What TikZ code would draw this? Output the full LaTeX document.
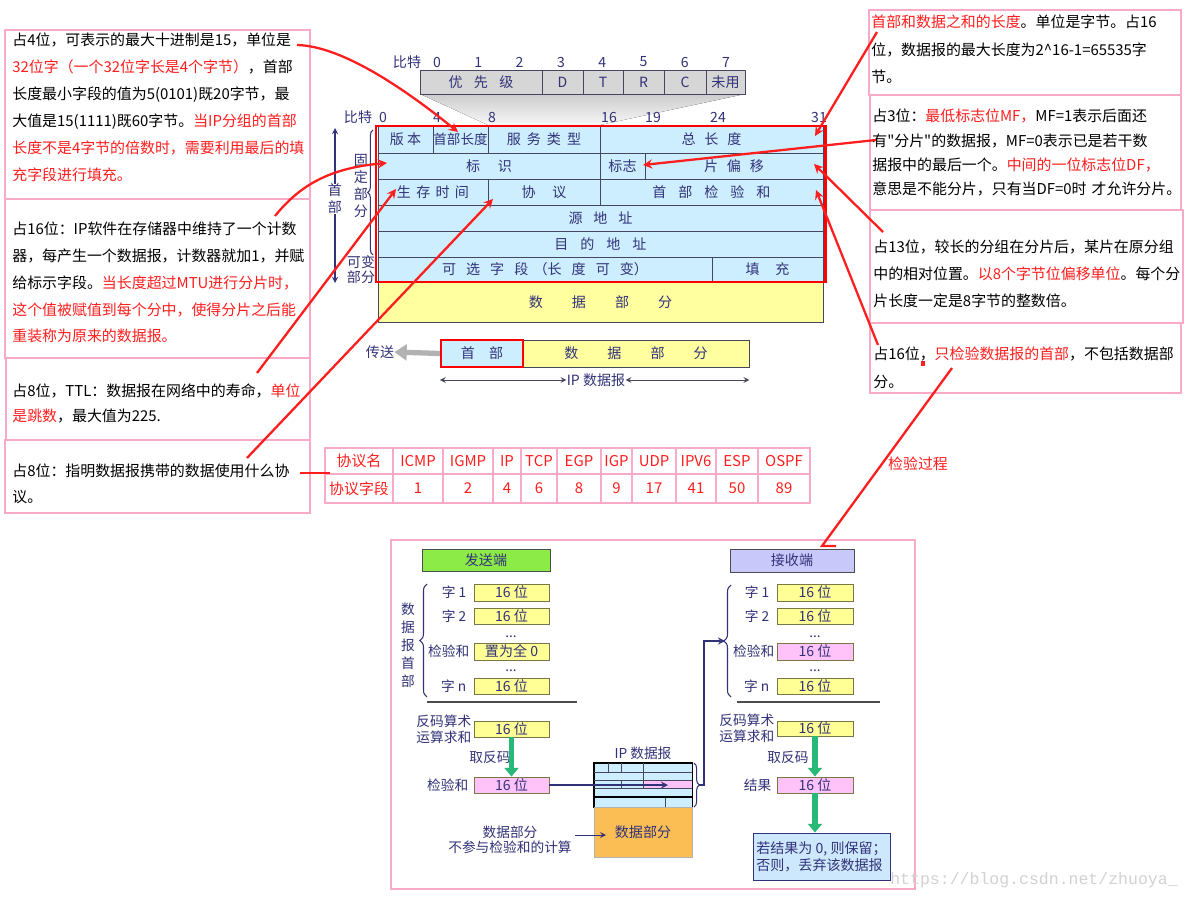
\documentclass[tikz,border=0pt]{standalone}
\usepackage{fontspec}
\setmainfont{Noto Sans CJK SC}
\newfontfamily\markfont{Liberation Mono}
\usetikzlibrary{positioning, arrows.meta, fit, decorations.pathreplacing}

\definecolor{notered}{RGB}{255,30,30}
\definecolor{pinkline}{RGB}{248,170,200}
\definecolor{navy}{RGB}{50,50,120}
\definecolor{hdrblue}{RGB}{204,238,255}
\definecolor{hdrline}{RGB}{70,70,95}
\definecolor{datayel}{RGB}{255,255,160}
\definecolor{tosgray}{RGB}{214,214,214}
\definecolor{wordyel}{RGB}{255,255,150}
\definecolor{wordline}{RGB}{120,120,70}
\definecolor{wordpink}{RGB}{255,195,250}
\definecolor{sendgreen}{RGB}{140,235,70}
\definecolor{recvblue}{RGB}{200,200,250}
\definecolor{dataorange}{RGB}{250,190,85}
\definecolor{resblue}{RGB}{205,232,252}
\definecolor{flowgreen}{RGB}{40,185,120}
\newcommand{\rd}[1]{\textcolor{notered}{#1}}
\newcommand{\chgap}[1]{\hspace{#1pt}}

\begin{document}
\begin{tikzpicture}[
    x=0.02cm, y=-0.02cm,
    >=stealth,
    notebox/.style={draw=pinkline, line width=0.6pt, inner sep=0pt},
    note/.style={anchor=base west, align=left, text width=7cm, inner sep=0pt, font=\fontsize{8.5}{15.3}\selectfont},
    fieldtext/.style={inner sep=0pt, text=navy, font=\fontsize{8}{9.6}\selectfont},
    ftext/.style={label={[fieldtext]center:#1}},
    field/.style={draw=hdrline, fill=hdrblue, line width=0.5pt, inner sep=0pt},
    tosfield/.style={field, fill=tosgray},
    datafield/.style={field, fill=datayel},
    bitnum/.style={inner sep=0pt, text=navy, font=\fontsize{8}{9.6}\selectfont},
    celltext/.style={inner sep=0pt, text=notered, font=\fontsize{8.5}{10}\selectfont},
    cell/.style={draw=pinkline, line width=1.5pt, inner sep=0pt},
    wordbox/.style={draw=wordline, fill=wordyel, line width=0.5pt, inner sep=0pt},
    sumbox/.style={wordbox, fill=wordpink},
    lbl/.style={inner sep=0pt, text=navy, font=\fontsize{7.8}{9}\selectfont},
    dots/.style={lbl, anchor=base},
    flow/.style={-{Triangle[length=5pt, width=8pt]}, flowgreen, line width=3pt},
    link/.style={->, notered, line width=1.3pt}
]
\useasboundingbox (0,0) rectangle (1190,898);
\fill[white] (0,0) rectangle (1190,898);

% left notes
\node[notebox, fit={(5,30) (310,199)}] (box1) {};
\node[notebox, fit={(5,199) (310,358)}] (box2) {};
\node[notebox, fit={(6,358) (310,440)}] (box3) {};
\node[notebox, fit={(5,440) (310,513)}] (box4) {};
\node[note] (n1) at (12,46) {占4位，可表示的最大十进制是15，单位是\\
    \rd{32位字（一个32位字长是4个字节）}，首部\\
    长度最小字段的值为5(0101)既20字节，最\\
    大值是15(1111)既60字节。\rd{当IP分组的首部}\\
    \rd{长度不是4字节的倍数时，需要利用最后的填}\\
    \rd{充字段进行填充。}};
\node[note, font=\fontsize{8.5}{15.2}\selectfont] (n2) at (12,235) {占16位：IP软件在存储器中维持了一个计数\\
    器，每产生一个数据报，计数器就加1，并赋\\
    给标示字段。\rd{当长度超过MTU进行分片时，}\\
    \rd{这个值被赋值到每个分中，使得分片之后能}\\
    \rd{重装称为原来的数据报。}};
\node[note, font=\fontsize{8.5}{14.2}\selectfont] (n3) at (12,397) {占8位，TTL：数据报在网络中的寿命，\rd{单位}\\
    \rd{是跳数}，最大值为225.};
\node[note, font=\fontsize{8.5}{14.7}\selectfont] (n4) at (12,477) {占8位：指明数据报携带的数据使用什么协\\
    议。};

% right notes
\node[notebox, fit={(869,10) (1181,95)}] (boxa) {};
\node[notebox, fit={(870,95) (1181,210)}] (boxb) {};
\node[notebox, fit={(870,210) (1183,323)}] (boxc) {};
\node[notebox, fit={(870,323) (1181,393)}] (boxd) {};
\node[note, font=\fontsize{8.5}{15.6}\selectfont] (na) at (871,28) {\rd{首部和数据之和的长度}。单位是字节。占16\\
    位，数据报的最大长度为2\textasciicircum16-1=65535字\\
    节。};
\node[note, font=\fontsize{8.5}{13.8}\selectfont] (nb) at (872,122) {占3位：\rd{最低标志位MF，}MF=1表示后面还\\
    有\textquotedbl 分片\textquotedbl 的数据报，MF=0表示已是若干数\\
    据报中的最后一个。\rd{中间的一位标志位DF，}\\
    意思是不能分片，只有当DF=0时 才允许分片。};
\node[note] (nc) at (873,253) {占13位，较长的分组在分片后，某片在原分组\\
    中的相对位置。\rd{以8个字节位偏移单位}。每个分\\
    片长度一定是8字节的整数倍。};
\node[note, font=\fontsize{8.5}{15.9}\selectfont] (nd) at (873,360) {占16位，\rd{只检验数据报的首部}，不包括数据部\\
    分。};
\fill[notered] (921,361) rectangle (925,366);

% TOS byte
\fill[top color=gray!40, bottom color=gray!6] (420,94) -- (745,94) -- (600,125) -- (488,125) -- cycle;
\node[bitnum] (bits1) at (407,62) {比特};
\foreach \b in {0,...,7} {
    \node[bitnum] (tb\b) at (437+41.3*\b, 62) {\b};
}
\node[tosfield, fit={(420,70) (542,94)}, ftext={优\chgap{6.5}先\chgap{6.5}级}] (prio) {};
\foreach \xa/\xb/\t/\nm in {542/583/D/tosd, 583/623/T/tost, 623/664/R/tosr, 664/706/C/tosc, 706/745/未用/tosu} {
    \node[tosfield, fit={(\xa,70) (\xb,94)}, ftext=\t] (\nm) {};
}

% header
\node[bitnum] (bits2) at (358,117) {比特};
\foreach \b/\x in {0/383, 4/437, 8/492, 16/609, 19/653, 24/718, 31/819} {
    \node[bitnum] (hb\b) at (\x,117) {\b};
}
\node[field, fit={(378,126) (433,153)}, ftext={版 本}] (ver) {};
\node[field, fit={(433,126) (488,153)}, label={[fieldtext, font=\fontsize{7.7}{9}\selectfont]center:首部长度}] (ihl) {};
\node[field, fit={(488,126) (600,153)}, ftext={服\chgap{3.4}务\chgap{3.4}类\chgap{3.4}型}] (tos) {};
\node[field, fit={(600,126) (823,153)}, ftext={总\chgap{5}长\chgap{5}度}] (tlen) {};
\node[field, fit={(378,153) (600,179)}, ftext={标\chgap{10}识}] (ident) {};
\node[field, fit={(600,153) (645,179)}, ftext={标志}] (flag) {};
\node[field, fit={(645,153) (823,179)}, ftext={片\chgap{5}偏\chgap{5}移}] (frag) {};
\node[field, fit={(378,179) (488,205)}, ftext={生\chgap{3}存\chgap{3}时\chgap{3}间}] (ttl) {};
\node[field, fit={(488,179) (600,205)}, ftext={协\chgap{9.6}议}] (proto) {};
\node[field, fit={(600,179) (823,205)}, ftext={首\chgap{6.8}部\chgap{6.8}检\chgap{6.8}验\chgap{6.8}和}] (hchk) {};
\node[field, fit={(378,205) (823,231)}, ftext={源\chgap{6.2}地\chgap{6.2}址}] (src) {};
\node[field, fit={(378,231) (823,257)}, ftext={目\chgap{6.8}的\chgap{6.8}地\chgap{6.8}址}] (dst) {};
\node[field, fit={(378,257) (712,282)}, ftext={可\chgap{5.7}选\chgap{5.7}字\chgap{5.7}段\chgap{3}（长\chgap{5.7}度\chgap{5.7}可\chgap{5.7}变）}] (opt) {};
\node[field, fit={(712,257) (823,282)}, ftext={填\chgap{9}充}] (pad) {};
\node[datafield, fit={(378,282) (823,322)}, ftext={数\chgap{16.5}据\chgap{16.5}部\chgap{16.5}分}] (data) {};
\draw[red, line width=1.7pt] (376,126) rectangle (825,282);

% header side labels
\draw[<->, navy, line width=0.6pt] (335,128) -- (335,283);
\node[lbl, fill=white, align=center, font=\fontsize{8}{9.6}\selectfont] (hdrlbl) at (335,199) {首\\部};
\node[lbl, align=center, font=\fontsize{8}{9.6}\selectfont] (fixlbl) at (361,186) {固\\定\\部\\分};
\node[lbl, align=center, font=\fontsize{8}{8.5}\selectfont] (varlbl) at (361,270) {可变\\部分};
\draw[navy, line width=0.6pt, decorate, decoration={brace, amplitude=3pt}] (373,255) -- (373,130);

% datagram
\node[datafield, fit={(523,340) (749,367)}, ftext={数\chgap{16.5}据\chgap{16.5}部\chgap{16.5}分}] (dp2) {};
\node[field, draw=red, line width=1.3pt, fit={(441,340) (523,367)}, ftext={首\chgap{8}部}] (hd2) {};
\node[lbl, font=\fontsize{8}{9.6}\selectfont] (sendlbl) at (380,352) {传送};
\draw[-{Triangle[length=7pt, width=9pt]}, gray!60, line width=3pt] (hd2.west) -- (sendlbl.east);
\node[lbl, font=\fontsize{8}{9.6}\selectfont] (iplen) at (596,380) {IP 数据报};
\draw[<->, hdrline, line width=0.5pt] (hd2.west |- iplen) -- (iplen.west);
\draw[<->, hdrline, line width=0.5pt] (dp2.east |- iplen) -- (iplen.east);

% protocol table
\foreach \xa/\xb/\pname/\pval [count=\i] in {325/393/协议名/协议字段, 393/443/ICMP/1, 443/493/IGMP/2,
    493/521/IP/4, 521/557/TCP/6, 557/601/EGP/8, 601/632/IGP/9, 632/676/UDP/17,
    676/716/IPV6/41, 716/758/ESP/50, 758/810/OSPF/89} {
    \node[cell, fit={(\xa,448) (\xb,474)}, label={[celltext]center:\pname}] (pn\i) {};
    \node[cell, fit={(\xa,474) (\xb,503)}, label={[celltext]center:\pval}] (pv\i) {};
}

% checksum
\node[notebox, fit={(391,540) (915,889)}] (ckframe) {};
\node[field, fill=sendgreen, draw=gray!60!black, fit={(422,549) (550,571)}, ftext={发送端}] (sendhd) {};
\node[wordbox, fit={(474,584) (549,601)}, ftext={16 位}] (sw1) {};
\node[wordbox, fit={(474,608) (549,624)}, ftext={16 位}] (sw2) {};
\node[wordbox, fit={(474,643) (549,660)}, ftext={置为全 0}] (sck) {};
\node[wordbox, fit={(474,678) (549,694)}, ftext={16 位}] (swn) {};
\node[lbl, left=0.14cm of sw1] (sl1) {字 1};
\node[lbl, left=0.14cm of sw2] (sl2) {字 2};
\node[lbl, left=0.08cm of sck] (slc) {检验和};
\node[lbl, left=0.14cm of swn] (sln) {字 n};
\node[dots] (sdot1) at (511,637) {...};
\node[dots] (sdot2) at (511,671) {...};
\draw[navy, line width=0.6pt, decorate, decoration={brace, amplitude=4pt}] (427,697) -- (427,584);
\node[lbl, align=center, font=\fontsize{7.8}{10.2}\selectfont] (shdr) at (408,645) {数\\据\\报\\首\\部};
\draw[gray!60!black, line width=1.2pt] (427,702) -- (577,702);
\node[wordbox, fit={(474,721) (549,737)}, ftext={16 位}] (ssum) {};
\node[lbl, align=center, left=0.04cm of ssum] (ssuml) {反码算术\\运算求和};
\node[lbl] (sinv) at (490,757) {取反码};
\node[sumbox, fit={(474,777) (549,793)}, ftext={16 位}] (schk) {};
\node[lbl, left=0.1cm of schk] (schkl) {检验和};
\draw[flow] (ssum.south) -- (schk.north);

% small datagram
\node[field, draw=black, fit={(594,763) (692,807)}] (mini) {};
\fill[wordpink] (643,780) rectangle (692,788);
\draw[hdrline, line width=0.4pt] (594,772) -- (692,772) (594,780) -- (692,780) (594,788) -- (692,788)
    (608,763) -- (608,772) (621,763) -- (621,772) (643,763) -- (643,788) (621,780) -- (621,788)
    (665,797) -- (665,807);
\draw[black, line width=1pt] (594,797) -- (692,797);
\draw[black, line width=0.6pt] (mini.south west) rectangle (mini.north east);
\node[lbl, above=0.06cm of mini] (minilbl) {IP 数据报};
\draw[navy, line width=0.6pt, decorate, decoration={brace, amplitude=3pt}] (694,763) -- (694,807);
\node[field, fill=dataorange, draw=gray!60, fit={(594,807) (692,857)}, ftext={数据部分}] (dorange) {};
\node[lbl, align=center, font=\fontsize{7.8}{8.6}\selectfont] (dnote) at (510,840) {数据部分\\不参与检验和的计算};
\coordinate (ptip) at (668,785);
\coordinate (minitip) at (699,785);
\coordinate (rtip) at (725,641);
\coordinate (dfrom) at (575,835);
\coordinate (dtip) at (606,835);
\draw[->, navy, line width=0.8pt] (schk.east) -- (ptip);
\draw[->, navy, line width=0.5pt] (dfrom) -- (dtip);
\draw[->, navy, line width=0.8pt] (minitip) -- ++(5,0) |- (rtip);

% receiver
\node[field, fill=recvblue, draw=gray!60!black, fit={(730,549) (854,572)}, ftext={接收端}] (recvhd) {};
\node[wordbox, fit={(777,584) (853,601)}, ftext={16 位}] (rw1) {};
\node[wordbox, fit={(777,608) (853,624)}, ftext={16 位}] (rw2) {};
\node[sumbox, fit={(777,643) (853,660)}, ftext={16 位}] (rck) {};
\node[wordbox, fit={(777,678) (853,694)}, ftext={16 位}] (rwn) {};
\node[lbl, left=0.14cm of rw1] (rl1) {字 1};
\node[lbl, left=0.14cm of rw2] (rl2) {字 2};
\node[lbl, left=0.04cm of rck] (rlc) {检验和};
\node[lbl, left=0.14cm of rwn] (rln) {字 n};
\node[dots] (rdot1) at (815,637) {...};
\node[dots] (rdot2) at (815,671) {...};
\draw[navy, line width=0.6pt, decorate, decoration={brace, amplitude=4pt}] (731,697) -- (731,585);
\draw[gray!60!black, line width=1.2pt] (737,702) -- (880,702);
\node[wordbox, fit={(777,721) (853,736)}, ftext={16 位}] (rsum) {};
\node[lbl, align=center, left=0.04cm of rsum] (rsuml) {反码算术\\运算求和};
\node[lbl] (rinv) at (788,757) {取反码};
\node[sumbox, fit={(777,777) (853,793)}, ftext={16 位}] (rres) {};
\node[lbl, left=0.1cm of rres] (rresl) {结果};
\node[field, fill=resblue, draw=navy, fit={(753,833) (890,880)},
    label={[fieldtext, align=left]center:{若结果为 0, 则保留；\\否则，丢弃该数据报}}] (rfinal) {};
\draw[flow] (rsum.south) -- (rres.north);
\draw[flow] (rres.south) -- (rres.south |- rfinal.north);

% red notes links
\coordinate (l1a) at (297,45);   \coordinate (l1b) at (458,132);
\coordinate (l2a) at (275,216);  \coordinate (l2b) at (387,163);
\coordinate (l3a) at (257,373);  \coordinate (l3b) at (396,189);
\coordinate (l4a) at (247,458);  \coordinate (l4b) at (493,199);
\coordinate (l5a) at (300,473);  \coordinate (l5b) at (330,473);
\coordinate (l6a) at (877,32);   \coordinate (l6b) at (815,136);
\coordinate (l7a) at (876,140);  \coordinate (l7b) at (643,165);
\coordinate (l8a) at (883,232);  \coordinate (l8b) at (814,164);
\coordinate (l9a) at (878,345);  \coordinate (l9b) at (816,190);
\coordinate (l10a) at (952,368); \coordinate (l10b) at (822,546);
\draw[link] (l1a) .. controls (340,46) and (400,85) .. (l1b);
\draw[link] (l2a) .. controls (300,185) and (330,168) .. (l2b);
\draw[link] (l3a) -- (l3b);
\draw[link] (l4a) -- (l4b);
\draw[notered, line width=1.3pt] (l5a) -- (l5b);
\draw[link] (l6a) -- (l6b);
\draw[link] (l7a) -- (l7b);
\draw[link] (l8a) -- (l8b);
\draw[link] (l9a) -- (l9b);
\draw[notered, line width=1.3pt] (l10a) -- (l10b) -- ++(14,0);
\node[inner sep=0pt, text=notered, font=\fontsize{8.5}{10}\selectfont] (cklbl) at (918,464) {检验过程};

% watermark
\node[inner sep=0pt, text=gray!35, font=\markfont\fontsize{9.4}{10}\selectfont] (mark) at (1034,880) {https://blog.csdn.net/zhuoya\_};
\end{tikzpicture}
\end{document}
